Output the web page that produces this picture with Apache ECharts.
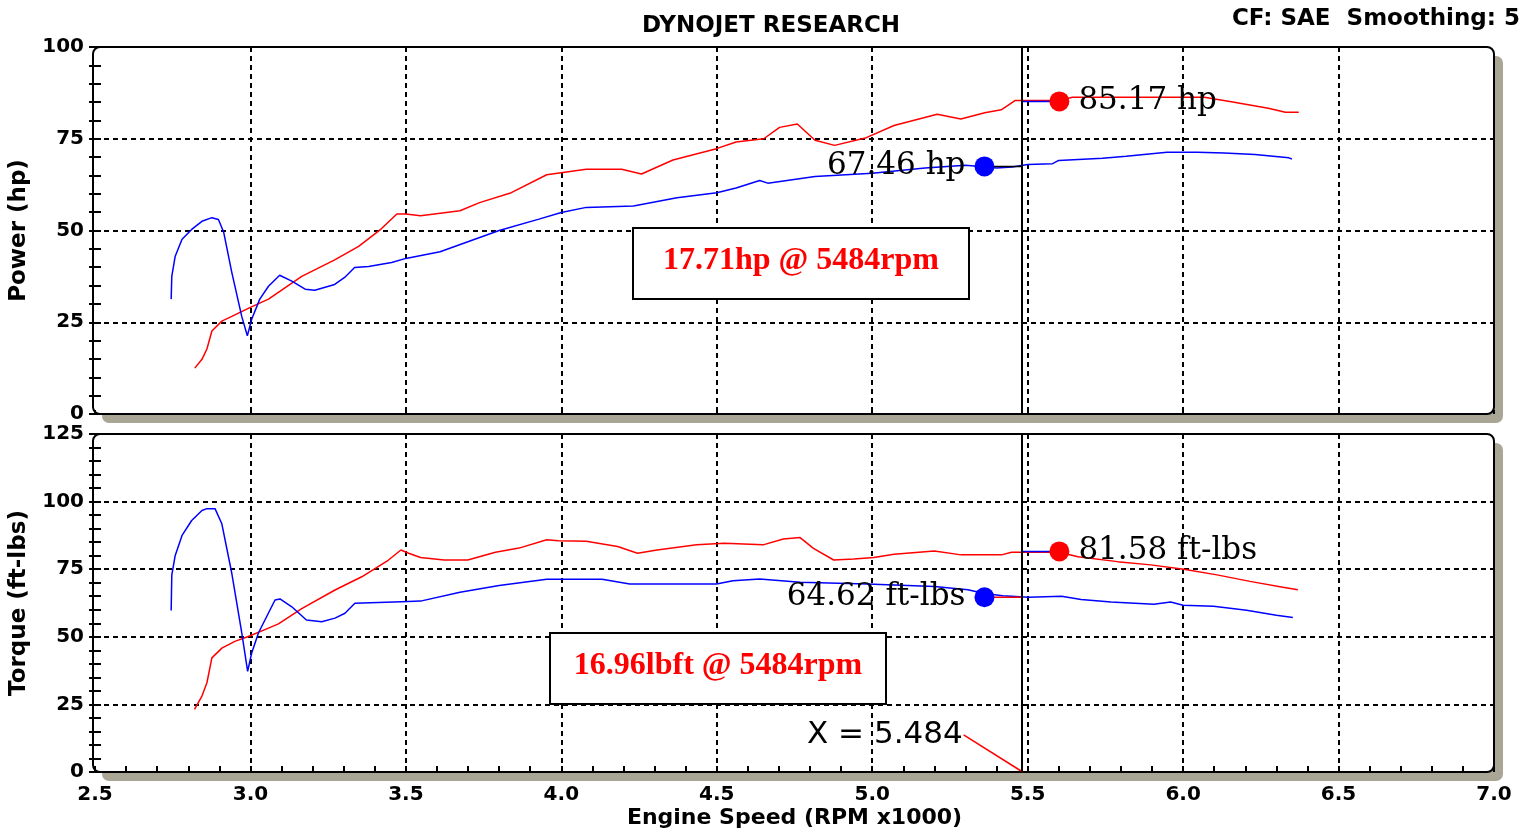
<!DOCTYPE html>
<html><head><meta charset="utf-8">
<script src="https://cdn.jsdelivr.net/npm/echarts@6/dist/echarts.min.js"></script>
<style>html,body{margin:0;padding:0;background:#fff}#c{width:1533px;height:832px}</style>
</head><body><div id="c"></div>
<script>
// ---- data (RPM x1000) ----
const powerRpmA = [2.821,2.844,2.860,2.876,2.908,2.940,2.998,3.058,3.165,3.271,3.348,3.420,3.471,3.500,3.547,3.674,3.737,3.839,3.953,4.080,4.194,4.258,4.359,4.499,4.562,4.651,4.702,4.759,4.816,4.879,4.981,5.070,5.209,5.285,5.362,5.415,5.459,5.602,5.644,6.068,6.155,6.274,6.329,6.372];
const powerHpA  = [12.5,14.9,17.7,22.6,25.3,26.6,29.0,31.3,37.5,42.0,45.7,50.4,54.5,54.5,54.0,55.4,57.6,60.3,65.2,66.7,66.7,65.4,69.2,72.3,74.1,75.0,78.1,79.0,74.6,73.2,75.3,78.6,81.7,80.4,82.1,82.9,85.4,85.4,86.3,86.3,85.1,83.3,82.2,82.2];
const powerRpmB = [2.745,2.747,2.758,2.780,2.811,2.844,2.876,2.897,2.914,2.940,2.972,2.990,3.004,3.030,3.058,3.094,3.133,3.176,3.207,3.271,3.303,3.335,3.380,3.454,3.500,3.610,3.800,3.928,4.000,4.080,4.232,4.372,4.500,4.562,4.638,4.664,4.816,5.000,5.170,5.300,5.400,5.450,5.500,5.580,5.600,5.741,5.817,5.948,6.046,6.132,6.231,6.340,6.350];
const powerHpB  = [31.3,37.5,43.0,47.6,50.3,52.5,53.5,53.0,49.5,38.6,26.6,21.3,25.8,31.3,34.8,37.8,36.2,34.0,33.7,35.3,37.2,39.9,40.2,41.3,42.4,44.2,50.0,53.1,54.9,56.3,56.7,58.9,60.3,61.6,63.6,62.9,64.7,65.6,67.0,67.8,67.0,67.3,68.0,68.2,69.1,69.7,70.2,71.3,71.3,71.1,70.7,69.8,69.5];
const torqueRpmA = [2.820,2.844,2.860,2.876,2.908,2.950,2.993,3.058,3.090,3.165,3.272,3.358,3.443,3.484,3.509,3.547,3.623,3.699,3.788,3.864,3.953,3.991,4.080,4.181,4.245,4.308,4.435,4.524,4.649,4.714,4.768,4.811,4.876,4.941,5.005,5.070,5.200,5.286,5.416,5.448,5.602,5.662,5.789,5.896,6.002,6.109,6.215,6.321,6.369];
const torqueA    = [23.2,28.1,33.0,42.2,45.8,48.3,50.1,53.2,54.8,60.4,67.3,72.2,78.3,82.1,80.9,79.3,78.4,78.4,81.3,82.8,85.9,85.5,85.3,83.4,80.9,82.1,84.0,84.6,84.0,86.2,86.7,82.7,78.4,78.8,79.3,80.5,81.7,80.3,80.3,81.3,81.3,79.6,77.8,76.6,75.0,72.9,70.5,68.3,67.4];
const torqueRpmB = [2.745,2.747,2.758,2.780,2.811,2.844,2.860,2.886,2.908,2.940,2.972,2.991,3.004,3.026,3.058,3.079,3.095,3.133,3.180,3.229,3.272,3.304,3.336,3.486,3.547,3.674,3.800,3.953,4.131,4.220,4.499,4.552,4.638,4.768,4.984,5.200,5.308,5.360,5.420,5.502,5.609,5.672,5.768,5.906,5.960,6.000,6.098,6.204,6.300,6.353];
const torqueB    = [59.7,72.8,80.1,87.5,93.0,96.7,97.4,97.4,91.8,73.5,51.5,37.2,44.0,51.5,58.8,63.6,64.0,61.1,56.2,55.6,56.9,58.7,62.4,63.0,63.2,66.5,69.0,71.3,71.3,69.5,69.5,70.7,71.4,70.2,69.5,68.6,67.4,66.0,65.2,64.6,65.0,63.8,62.9,62.0,62.9,61.7,61.3,59.8,58.0,57.1];

const cursorRpm = 5.484;
const peakRpmA = 5.602, peakHpA = 85.17, peakTqA = 81.58;
const peakRpmB = 5.361, peakHpB = 67.46, peakTqB = 64.62;
const xNoteAnchor = [5.294, 13.7];
const diffTexts = ['17.71hp @ 5484rpm', '16.96lbft @ 5484rpm'];
const xNoteText = 'X = 5.484';

const zip = (a, b) => a.map((v, i) => [v, b[i]]);
const SANS = 'DejaVu Sans';
const RED = '#ff0000', BLUE = '#0000ff';
const gridLine = {color: '#000', width: 2, type: [5, 4]};
const tickLine = {color: '#000', width: 2};

function yAxes(gi, max, name) {
  return [{
    type: 'value', gridIndex: gi, min: 0, max: max, interval: 25, position: 'left',
    name: name, nameLocation: 'middle', nameGap: 64,
    nameTextStyle: {fontFamily: SANS, fontWeight: 'bold', fontSize: 23, color: '#000'},
    axisLine: {show: false},
    axisTick: {show: true, inside: false, length: 6, lineStyle: tickLine},
    minorTick: {show: true, splitNumber: 5, length: 6, lineStyle: tickLine},
    axisLabel: {margin: 11, fontFamily: SANS, fontWeight: 'bold', fontSize: 20, color: '#000'},
    splitLine: {show: true, showMinLine: false, showMaxLine: false, lineStyle: gridLine}
  }, {
    type: 'value', gridIndex: gi, min: 0, max: max, interval: 25, position: 'left',
    axisLine: {show: false},
    axisTick: {show: true, inside: true, length: 6, lineStyle: tickLine},
    minorTick: {show: true, splitNumber: 5, length: 6, lineStyle: tickLine},
    axisLabel: {show: false}, splitLine: {show: false}
  }];
}

const cursorMark = {
  symbol: 'none', silent: true, animation: false,
  lineStyle: {color: '#000', width: 2, type: 'solid'},
  label: {show: false},
  data: [{xAxis: cursorRpm}]
};

function curve(xi, yi, data, color, mark) {
  const s = {type: 'line', xAxisIndex: xi, yAxisIndex: yi, data: data, showSymbol: false,
    lineStyle: {color: color, width: 1.5}, itemStyle: {color: color}, z: 3};
  if (mark) s.markLine = mark;
  return s;
}
function peak(xi, yi, pt, color, text, pos) {
  return {type: 'scatter', xAxisIndex: xi, yAxisIndex: yi, data: [pt], symbol: 'circle', symbolSize: 20,
    itemStyle: {color: color, opacity: 1}, z: 6,
    label: {show: true, position: pos, distance: 9, formatter: text, opacity: 1,
      fontFamily: 'DejaVu Serif', fontSize: 31, color: '#000'}};
}

const frames = [[47, 367], [434, 338]];
const graphic = [];
frames.forEach(([top, h]) => {
  graphic.push({type: 'rect', z: -20, shape: {x: 102, y: top + 9, width: 1401, height: h, r: 7},
    style: {fill: '#aaa696'}});
  graphic.push({type: 'rect', z: -19, shape: {x: 93, y: top, width: 1401, height: h, r: 7},
    style: {fill: '#fff', stroke: '#000', lineWidth: 2}});
});
[[633, 228], [550, 633]].forEach(([x, y], i) => {
  graphic.push({type: 'rect', z: 50, shape: {x: x, y: y, width: 336, height: 71},
    style: {fill: '#fff', stroke: '#000', lineWidth: 2}});
  graphic.push({type: 'text', z: 51, x: x + 168, y: y + 33,
    style: {text: diffTexts[i], fill: RED, font: 'bold 32px "Liberation Serif"', textAlign: 'center', textVerticalAlign: 'middle'}});
});
graphic.push({type: 'text', z: 51, x: 807, y: 735,
  style: {text: xNoteText, fill: '#000', font: '31px "DejaVu Sans"', textAlign: 'left', textVerticalAlign: 'middle'}});
graphic.push({type: 'text', z: 51, x: 771, y: 26,
  style: {text: 'DYNOJET RESEARCH', fill: '#000', font: 'bold 23px "DejaVu Sans"', textAlign: 'center', textVerticalAlign: 'middle'}});
graphic.push({type: 'text', z: 51, x: 1520, y: 19,
  style: {text: 'CF: SAE  Smoothing: 5', fill: '#000', font: 'bold 23px "DejaVu Sans"', textAlign: 'right', textVerticalAlign: 'middle'}});

const option = {
  animation: false,
  backgroundColor: '#fff',
  grid: [
    {left: 93, top: 47, width: 1401, height: 367},
    {left: 93, top: 434, width: 1401, height: 338}
  ],
  xAxis: [{
    type: 'value', gridIndex: 0, min: 2.5, max: 7, interval: 0.5,
    axisLine: {show: false},
    axisTick: {show: true, inside: true, length: 4, lineStyle: tickLine},
    axisLabel: {show: false},
    splitLine: {show: true, showMinLine: false, showMaxLine: false, lineStyle: gridLine}
  }, {
    type: 'value', gridIndex: 1, min: 2.5, max: 7, interval: 0.5,
    name: 'Engine Speed (RPM x1000)', nameLocation: 'middle', nameGap: 35,
    nameTextStyle: {fontFamily: SANS, fontWeight: 'bold', fontSize: 22, color: '#000'},
    axisLine: {show: false},
    axisTick: {show: true, inside: true, length: 6, lineStyle: tickLine},
    minorTick: {show: true, splitNumber: 5, length: 6, lineStyle: tickLine},
    axisLabel: {margin: 13, fontFamily: SANS, fontWeight: 'bold', fontSize: 20, color: '#000',
      formatter: v => v.toFixed(1)},
    splitLine: {show: true, showMinLine: false, showMaxLine: false, lineStyle: gridLine}
  }],
  yAxis: [...yAxes(0, 100, 'Power (hp)'), ...yAxes(1, 125, 'Torque (ft-lbs)')],
  series: [
    curve(0, 0, zip(powerRpmA, powerHpA), RED, cursorMark),
    curve(0, 0, zip(powerRpmB, powerHpB), BLUE),
    curve(0, 0, [[cursorRpm, peakHpA], [peakRpmA, peakHpA]], BLUE),
    curve(0, 0, [[peakRpmB, peakHpB], [cursorRpm, peakHpB]], '#000'),
    peak(0, 0, [peakRpmA, peakHpA], RED, peakHpA.toFixed(2) + ' hp', 'right'),
    peak(0, 0, [peakRpmB, peakHpB], BLUE, peakHpB.toFixed(2) + ' hp', 'left'),
    curve(1, 2, zip(torqueRpmA, torqueA), RED, cursorMark),
    curve(1, 2, zip(torqueRpmB, torqueB), BLUE),
    curve(1, 2, [[cursorRpm, peakTqA], [peakRpmA, peakTqA]], BLUE),
    curve(1, 2, [[peakRpmB, peakTqB], [cursorRpm, peakTqB]], RED),
    curve(1, 2, [xNoteAnchor, [cursorRpm, 0]], RED),
    peak(1, 2, [peakRpmA, peakTqA], RED, peakTqA.toFixed(2) + ' ft-lbs', 'right'),
    peak(1, 2, [peakRpmB, peakTqB], BLUE, peakTqB.toFixed(2) + ' ft-lbs', 'left')
  ],
  graphic: graphic
};
const chart = echarts.init(document.getElementById('c'), null, {renderer: 'canvas'});
chart.setOption(option);
</script></body></html>
